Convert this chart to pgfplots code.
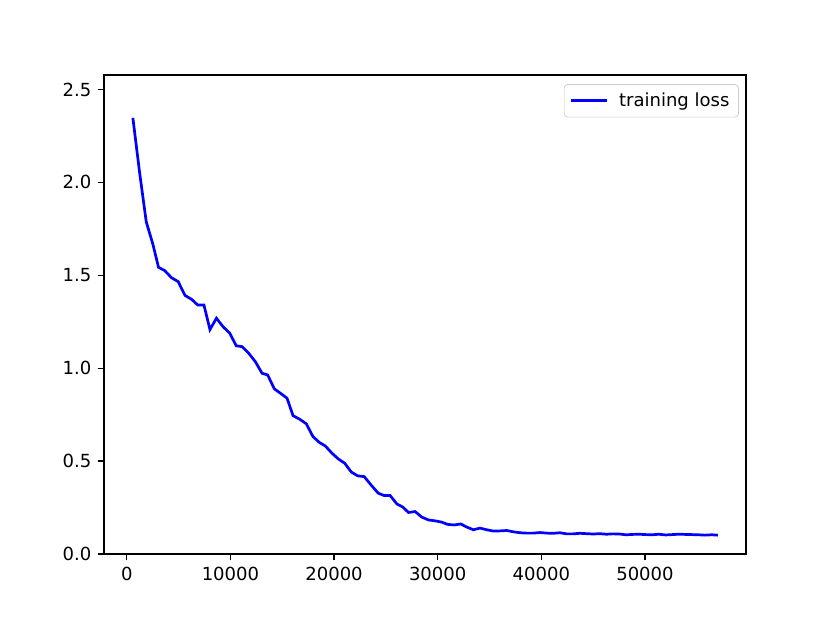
\documentclass[border=0pt]{standalone}
\usepackage{pgfplots}
\pgfplotsset{compat=1.18}
\usepackage{fontspec}
\setmainfont{DejaVu Sans}

\begin{document}
\begin{tikzpicture}
% page = whole 830x623 figure (1px = 0.555pt)
\path[use as bounding box] (-57.7pt,-38.3pt) rectangle (402.9pt,307.5pt);
\begin{axis}[
    at={(0pt,0pt)}, anchor=south west,
    scale only axis,
    width=356.3pt, height=265.8pt,
    xmin=-2200, xmax=59750,
    ymin=0, ymax=2.577,
    xtick={0,10000,20000,30000,40000,50000},
    ytick={0,0.5,1,1.5,2,2.5},
    scaled x ticks=false,
    xticklabel style={/pgf/number format/set thousands separator={}},
    yticklabel style={/pgf/number format/.cd, fixed, fixed zerofill, precision=1},
    /pgf/number format/assume math mode=true,
    tick pos=left,
    tick align=outside,
    major tick length=3.5pt,
    every tick/.style={black, line width=0.8pt},
    axis line style={line width=0.8pt},
    tick label style={font=\fontsize{10}{12}\selectfont},
    legend style={at={(1,1)}, anchor=north east, xshift=-4pt, yshift=-5pt,
        draw=black!20, rounded corners=2pt, font=\fontsize{10}{12}\selectfont,
        inner xsep=3pt, inner ysep=2.5pt, column sep=4pt},
    legend cell align=left,
    legend image code/.code={\draw[#1] (0pt,0pt) -- (20pt,0pt);},
]
\addplot[blue, line width=1.5pt] coordinates {
    (588,2.347) (1233,2.055) (1879,1.788) (2514,1.668) (3064,1.543)
    (3671,1.525) (4316,1.487) (4962,1.466) (5617,1.392) (6272,1.370)
    (6850,1.340) (7447,1.340) (8025,1.208) (8651,1.269) (9297,1.223)
    (9933,1.189) (10559,1.121) (11127,1.116) (11763,1.081) (12409,1.035)
    (13054,0.973) (13594,0.964) (14239,0.889) (14817,0.866) (15463,0.839)
    (16041,0.745) (16677,0.726) (17322,0.701) (17967,0.632) (18603,0.600)
    (19152,0.582) (19798,0.543) (20434,0.511) (21031,0.489) (21657,0.442)
    (22284,0.421) (22910,0.417) (23555,0.373) (24258,0.328) (24836,0.315)
    (25414,0.315) (26060,0.270) (26638,0.253) (27177,0.224) (27823,0.229)
    (28468,0.199) (29104,0.184) (29750,0.179) (30395,0.172) (30954,0.160)
    (31580,0.157) (32225,0.162) (32832,0.145) (33439,0.131) (34084,0.140)
    (34730,0.131) (35366,0.124) (36011,0.125) (36657,0.127) (37293,0.120)
    (37938,0.115) (38584,0.113) (39220,0.113) (39866,0.116) (40511,0.113)
    (41147,0.112) (41793,0.115) (42438,0.109) (43074,0.109) (43720,0.112)
    (44360,0.110) (45000,0.108) (45630,0.110) (46270,0.107) (46900,0.109)
    (47540,0.108) (48170,0.104) (48810,0.106) (49440,0.107) (50080,0.105)
    (50710,0.104) (51350,0.107) (51980,0.103) (52620,0.105) (53250,0.107)
    (53890,0.106) (54520,0.105) (55160,0.104) (55790,0.102) (56430,0.104)
    (57040,0.102)
};
\addlegendentry{training loss}
\end{axis}
\end{tikzpicture}
\end{document}
